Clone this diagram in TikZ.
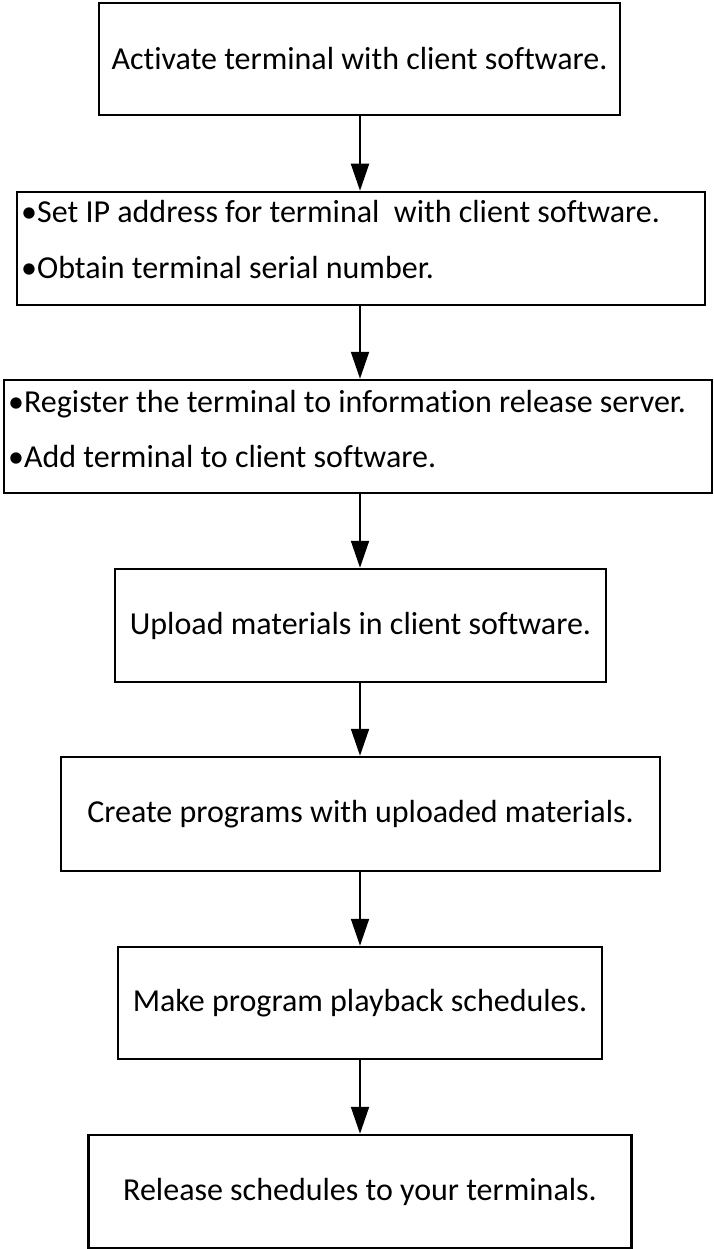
\documentclass[tikz,border=0pt]{standalone}
\usepackage{fontspec}
\setmainfont{Carlito}[Ligatures={NoCommon}]
\usetikzlibrary{arrows.meta}
\tikzset{
  stepbox/.style={draw=black, line width=2.5pt, rectangle, inner sep=0pt, font=\fontsize{32}{38}\selectfont},
  linetext/.style={anchor=base west, inner sep=0pt, font=\fontsize{32}{38}\selectfont},
  flow/.style={draw=black, line width=2pt, -{Triangle[width=18pt,length=27pt]}, shorten >=0pt}
}
\begin{document}
\begin{tikzpicture}[x=1pt,y=-1pt]
\useasboundingbox (0,0) rectangle (714,1249);
% boxes
\node[stepbox, minimum width=521pt, minimum height=112pt] (b1) at (359.5,59) {Activate terminal with client software.};
\node[stepbox, minimum width=688pt, minimum height=113pt] (b2) at (361,248.5) {};
\node[stepbox, minimum width=708pt, minimum height=113pt] (b3) at (358,436.5) {};
\node[stepbox, minimum width=491pt, minimum height=113pt] (b4) at (360.5,625.5) {Upload materials in client software.};
\node[stepbox, minimum width=599pt, minimum height=114pt] (b5) at (360.5,814) {Create programs with uploaded materials.};
\node[stepbox, minimum width=484pt, minimum height=112pt] (b6) at (360,1003) {Make program playback schedules.};
\node[stepbox, minimum width=543pt, minimum height=113pt] (b7) at (360,1191.5) {Release schedules to your terminals.};
% two-line texts
\node[linetext] (t2a) at (21,223) {•Set IP address for terminal\ \ with client software.};
\node[linetext] (t2b) at (21,278) {•Obtain terminal serial number.};
\node[linetext] (t3a) at (8,412) {•Register the terminal to information release server.};
\node[linetext] (t3b) at (8,467) {•Add terminal to client software.};
% connectors
\coordinate (a1s) at (360,115);
\draw[flow] (b1.south -| a1s) -- (b2.north -| a1s);
\draw[flow] (b2.south -| a1s) -- (b3.north -| a1s);
\draw[flow] (b3.south -| a1s) -- (b4.north -| a1s);
\draw[flow] (b4.south -| a1s) -- (b5.north -| a1s);
\draw[flow] (b5.south -| a1s) -- (b6.north -| a1s);
\draw[flow] (b6.south -| a1s) -- (b7.north -| a1s);
\end{tikzpicture}
\end{document}
